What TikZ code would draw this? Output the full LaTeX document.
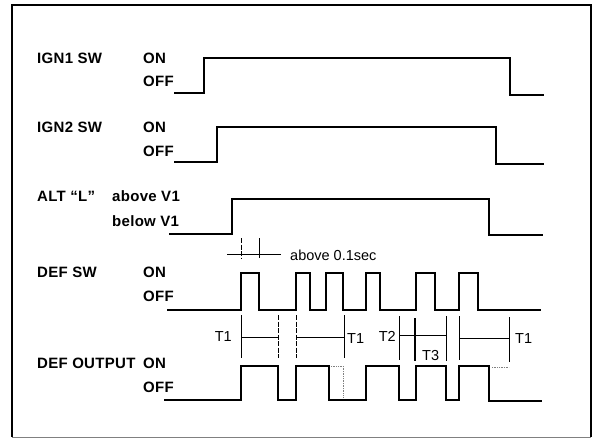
\documentclass[tikz,border=0pt]{standalone}
\usepackage{fontspec}
\setmainfont{Liberation Sans}
\newfontfamily\labfont[LetterSpace=2]{Liberation Sans}
\begin{document}
\begin{tikzpicture}[x=1pt,y=-1pt,
  lab/.style={anchor=west,inner sep=0pt,font=\labfont\bfseries\fontsize{15}{18}\selectfont},
  note/.style={anchor=west,inner sep=0pt,font=\fontsize{14.5}{17}\selectfont},
  sig/.style={line width=1.7pt,line join=miter,line cap=rect},
  defsig/.style={line width=2pt,line join=miter,line cap=rect},
  tickline/.style={line width=0.9pt},
  dtickline/.style={line width=0.9pt,dash pattern=on 5pt off 1.5pt},
  ghost/.style={line width=0.7pt,densely dotted,gray}]
\useasboundingbox (0,0) rectangle (594,439);
% frame
\draw[line width=2.5pt] (12,437) -- (12,5) -- (591,5) -- (591,437);
\draw[line width=1pt,gray] (12,437.5) -- (591,437.5);

% labels
\node[lab] (ign1) at (37,58) {IGN1 SW};
\node[lab] (ign1on) at (143,58) {ON};
\node[lab] (ign1off) at (143,81) {OFF};
\node[lab] (ign2) at (37,127) {IGN2 SW};
\node[lab] (ign2on) at (143,127) {ON};
\node[lab] (ign2off) at (143,151) {OFF};
\node[lab] (alt) at (37,196) {ALT “L”};
\node[lab] (altab) at (112,196) {above V1};
\node[lab] (altbe) at (112,221) {below V1};
\node[lab] (defsw) at (37,272) {DEF SW};
\node[lab] (defswon) at (143,272) {ON};
\node[lab] (defswoff) at (143,296) {OFF};
\node[lab] (defout) at (37,363) {DEF OUTPUT};
\node[lab] (defouton) at (143,363) {ON};
\node[lab] (defoutoff) at (143,387) {OFF};

% waveforms
\draw[sig] (175,93) -- (204,93) -- (204,58) -- (510,58) -- (510,95) -- (543,95);
\draw[sig] (175,162) -- (217,162) -- (217,127) -- (496,127) -- (496,164) -- (543,164);
\draw[sig] (170,234) -- (232,234) -- (232,199) -- (489,199) -- (489,235) -- (542,235);
\draw[defsig] (168,310) -- (241,310) -- (241,273) -- (259,273) -- (259,310)
  -- (296,310) -- (296,273) -- (310,273) -- (310,310)
  -- (326,310) -- (326,273) -- (343,273) -- (343,310)
  -- (366,310) -- (366,273) -- (380,273) -- (380,310)
  -- (416,310) -- (416,273) -- (435,273) -- (435,310)
  -- (459,310) -- (459,273) -- (478,273) -- (478,310) -- (540,310);
\draw[defsig] (165,400) -- (241,400) -- (241,366) -- (278,366) -- (278,400)
  -- (296,400) -- (296,366) -- (329,366) -- (329,400)
  -- (366,400) -- (366,366) -- (399,366) -- (399,400)
  -- (416,400) -- (416,366) -- (446,366) -- (446,400)
  -- (459,400) -- (459,366) -- (489,366) -- (489,401) -- (541,401);
\draw[ghost] (331,366) -- (343,366) -- (343,398);
\draw[ghost] (492,367) -- (509,367);

% 0.1 sec marker
\draw[tickline] (227,254) -- (281,254);
\draw[dtickline] (241,238) -- (241,258);
\draw[tickline] (259,238) -- (259,258);
\node[note] (tmin) at (290,255) {above 0.1sec};

% timing markers
\draw[tickline] (241,315) -- (241,358);
\draw[dtickline] (278,315) -- (278,358);
\draw[tickline] (241,337) -- (278,337);
\node[note,anchor=east] (t1a) at (232,337) {T1};

\draw[dtickline] (296,315) -- (296,358);
\draw[tickline] (344,315) -- (344,358);
\draw[tickline] (296,337) -- (344,337);
\node[note] (t1b) at (347,339) {T1};

\draw[tickline] (399,316) -- (399,360);
\draw[line width=1.2pt] (415,318) -- (415,361);
\draw[tickline] (446,316) -- (446,361);
\draw[tickline] (399,335) -- (446,335);
\node[note,anchor=east] (t2) at (396,336) {T2};
\node[note] (t3) at (422,356) {T3};

\draw[tickline] (459,316) -- (459,360);
\draw[tickline] (509,317) -- (509,362);
\draw[tickline] (459,338) -- (509,338);
\node[note] (t1c) at (515,339) {T1};
\end{tikzpicture}
\end{document}
